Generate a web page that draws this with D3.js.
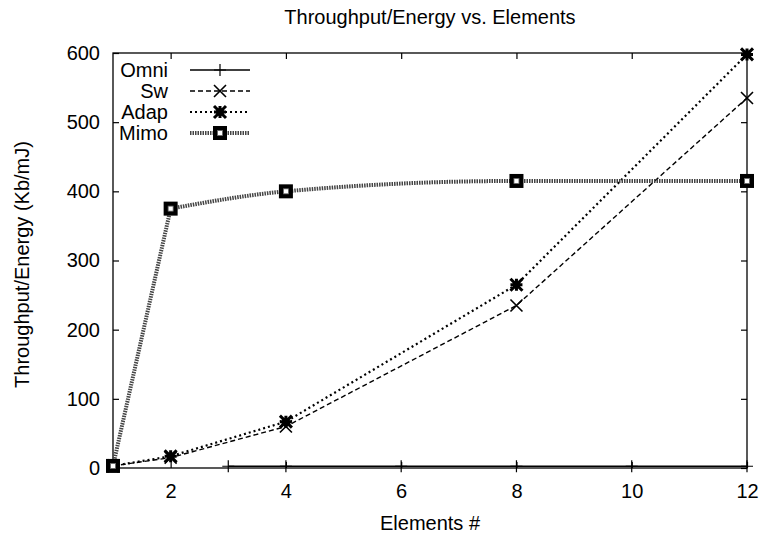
<!DOCTYPE html>
<html>
<head>
<meta charset="utf-8">
<script src="https://cdn.jsdelivr.net/npm/d3@7/dist/d3.min.js"></script>
<style>
  html, body { margin: 0; padding: 0; background: #fff; }
  svg text { font-family: "Liberation Sans", Arial, Helvetica, sans-serif; fill: #000; }
</style>
</head>
<body>
<svg id="chart" width="763" height="535"></svg>
<script>
// Throughput per energy for each antenna scheme, by number of elements
const omniX = [3, 4, 6, 8, 10, 12];
const omniY = [2.5, 2.5, 2.5, 2.5, 2.5, 2.5];
const swX = [1, 2, 4, 8, 12];
const swY = [3, 15, 60, 235, 535];
const adapX = [1, 2, 4, 8, 12];
const adapY = [3, 17, 67, 265, 598];
const mimoX = [1, 2, 4, 8, 12];
const mimoY = [3, 375, 400, 415, 415];

const xTicks = [2, 4, 6, 8, 10, 12];
const yTicks = [0, 100, 200, 300, 400, 500, 600];

const titleText = "Throughput/Energy vs. Elements";
const xLabel = "Elements #";
const yLabel = "Throughput/Energy (Kb/mJ)";

const fontSize = 20;
const svg = d3.select("#chart");
const plotLeft = 113, plotRight = 747, plotTop = 53, plotBottom = 468;

const x = d3.scaleLinear().domain([1, 12]).range([plotLeft, plotRight]);
const y = d3.scaleLinear().domain([0, 600]).range([plotBottom, plotTop]);

const zip = (xs, ys) => xs.map((v, i) => ({ x: v, y: ys[i] }));

// frame with inward ticks on all four sides
const tickLen = 6;
const frame = svg.append("g").attr("stroke", "#000").attr("stroke-width", 1.3).attr("fill", "none");
frame.append("rect").attr("x", plotLeft).attr("y", plotTop)
  .attr("width", plotRight - plotLeft).attr("height", plotBottom - plotTop);

const axB = d3.axisBottom(x).tickValues(xTicks).tickSize(-tickLen).tickPadding(16).tickSizeOuter(0);
const axT = d3.axisTop(x).tickValues(xTicks).tickSize(-tickLen).tickFormat("").tickSizeOuter(0);
const axL = d3.axisLeft(y).tickValues(yTicks).tickSize(-tickLen).tickPadding(13).tickSizeOuter(0);
const axR = d3.axisRight(y).tickValues(yTicks).tickSize(-tickLen).tickFormat("").tickSizeOuter(0);

function styleAxis(g) {
  g.select(".domain").remove();
  g.selectAll(".tick line").attr("stroke", "#000").attr("stroke-width", 1.2);
  g.selectAll(".tick text").attr("font-size", fontSize).attr("fill", "#000")
    .attr("font-family", "Liberation Sans, Arial, sans-serif");
}
svg.append("g").attr("transform", `translate(0,${plotBottom})`).call(axB).call(styleAxis);
svg.append("g").attr("transform", `translate(0,${plotTop})`).call(axT).call(styleAxis);
svg.append("g").attr("transform", `translate(${plotLeft},0)`).call(axL).call(styleAxis);
svg.append("g").attr("transform", `translate(${plotRight},0)`).call(axR).call(styleAxis);

// titles
svg.append("text").attr("x", (plotLeft + plotRight) / 2).attr("y", 24).attr("text-anchor", "middle")
  .attr("font-size", fontSize).text(titleText);
svg.append("text").attr("x", (plotLeft + plotRight) / 2).attr("y", 530).attr("text-anchor", "middle")
  .attr("font-size", fontSize).text(xLabel);
svg.append("text").attr("transform", `translate(29,${(plotTop + plotBottom) / 2 + 4}) rotate(-90)`)
  .attr("text-anchor", "middle").attr("font-size", fontSize).text(yLabel);

// marker shapes
function markPlus(g, cx, cy) {
  g.append("path").attr("d", `M${cx - 6},${cy}H${cx + 6}M${cx},${cy - 6}V${cy + 6}`)
    .attr("stroke", "#000").attr("stroke-width", 1.2).attr("fill", "none");
}
function markCross(g, cx, cy) {
  g.append("path").attr("d", `M${cx - 6},${cy - 6}L${cx + 6},${cy + 6}M${cx - 6},${cy + 6}L${cx + 6},${cy - 6}`)
    .attr("stroke", "#000").attr("stroke-width", 1.6).attr("fill", "none");
}
function markStar(g, cx, cy) {
  g.append("path").attr("d", `M${cx - 6},${cy - 6}L${cx + 6},${cy + 6}M${cx - 6},${cy + 6}L${cx + 6},${cy - 6}M${cx - 6},${cy}H${cx + 6}M${cx},${cy - 6}V${cy + 6}`)
    .attr("stroke", "#000").attr("stroke-width", 3).attr("fill", "none");
  g.append("rect").attr("x", cx - 3.5).attr("y", cy - 3.5).attr("width", 7).attr("height", 7).attr("fill", "#000");
}
function markSquare(g, cx, cy) {
  g.append("rect").attr("x", cx - 7).attr("y", cy - 7).attr("width", 14).attr("height", 14).attr("fill", "#000");
  g.append("rect").attr("x", cx - 2.5).attr("y", cy - 2.5).attr("width", 5).attr("height", 5)
    .attr("fill", "#fff").attr("stroke", "#666").attr("stroke-width", 0.8);
}

const series = [
  { name: "Omni", data: zip(omniX, omniY), dash: null, width: 1.3, color: "#000", mark: markPlus },
  { name: "Sw", data: zip(swX, swY), dash: "5,3", width: 1.4, color: "#000", mark: markCross },
  { name: "Adap", data: zip(adapX, adapY), dash: "2,3", width: 2.2, color: "#000", mark: markStar },
  { name: "Mimo", data: zip(mimoX, mimoY), dash: "1.5,1", width: 4, color: "#444", mark: markSquare }
];

const line = d3.line().x(d => x(d.x)).y(d => y(d.y));
const smooth = d3.line().x(d => x(d.x)).y(d => y(d.y)).curve(d3.curveMonotoneX);

const plot = svg.append("g");
series.forEach(s => {
  const paths = s.name === "Mimo"
    ? [line(s.data.slice(0, 2)), smooth(s.data.slice(1))]
    : [line(s.data)];
  paths.forEach(p => {
    plot.append("path").attr("d", p).attr("fill", "none").attr("stroke", s.color)
      .attr("stroke-width", s.width).attr("stroke-dasharray", s.dash);
  });
});
series.forEach(s => {
  const g = plot.append("g");
  s.data.forEach(d => s.mark(g, x(d.x), y(d.y)));
});

// legend
const legend = svg.append("g");
series.forEach((s, i) => {
  const ly = 70 + i * 21;
  legend.append("text").attr("x", 168).attr("y", ly).attr("dy", "0.35em")
    .attr("text-anchor", "end").attr("font-size", fontSize).text(s.name);
  legend.append("path").attr("d", `M190,${ly}H250`).attr("fill", "none").attr("stroke", s.color)
    .attr("stroke-width", s.width).attr("stroke-dasharray", s.dash);
  s.mark(legend, 220, ly);
});
</script>
</body>
</html>
